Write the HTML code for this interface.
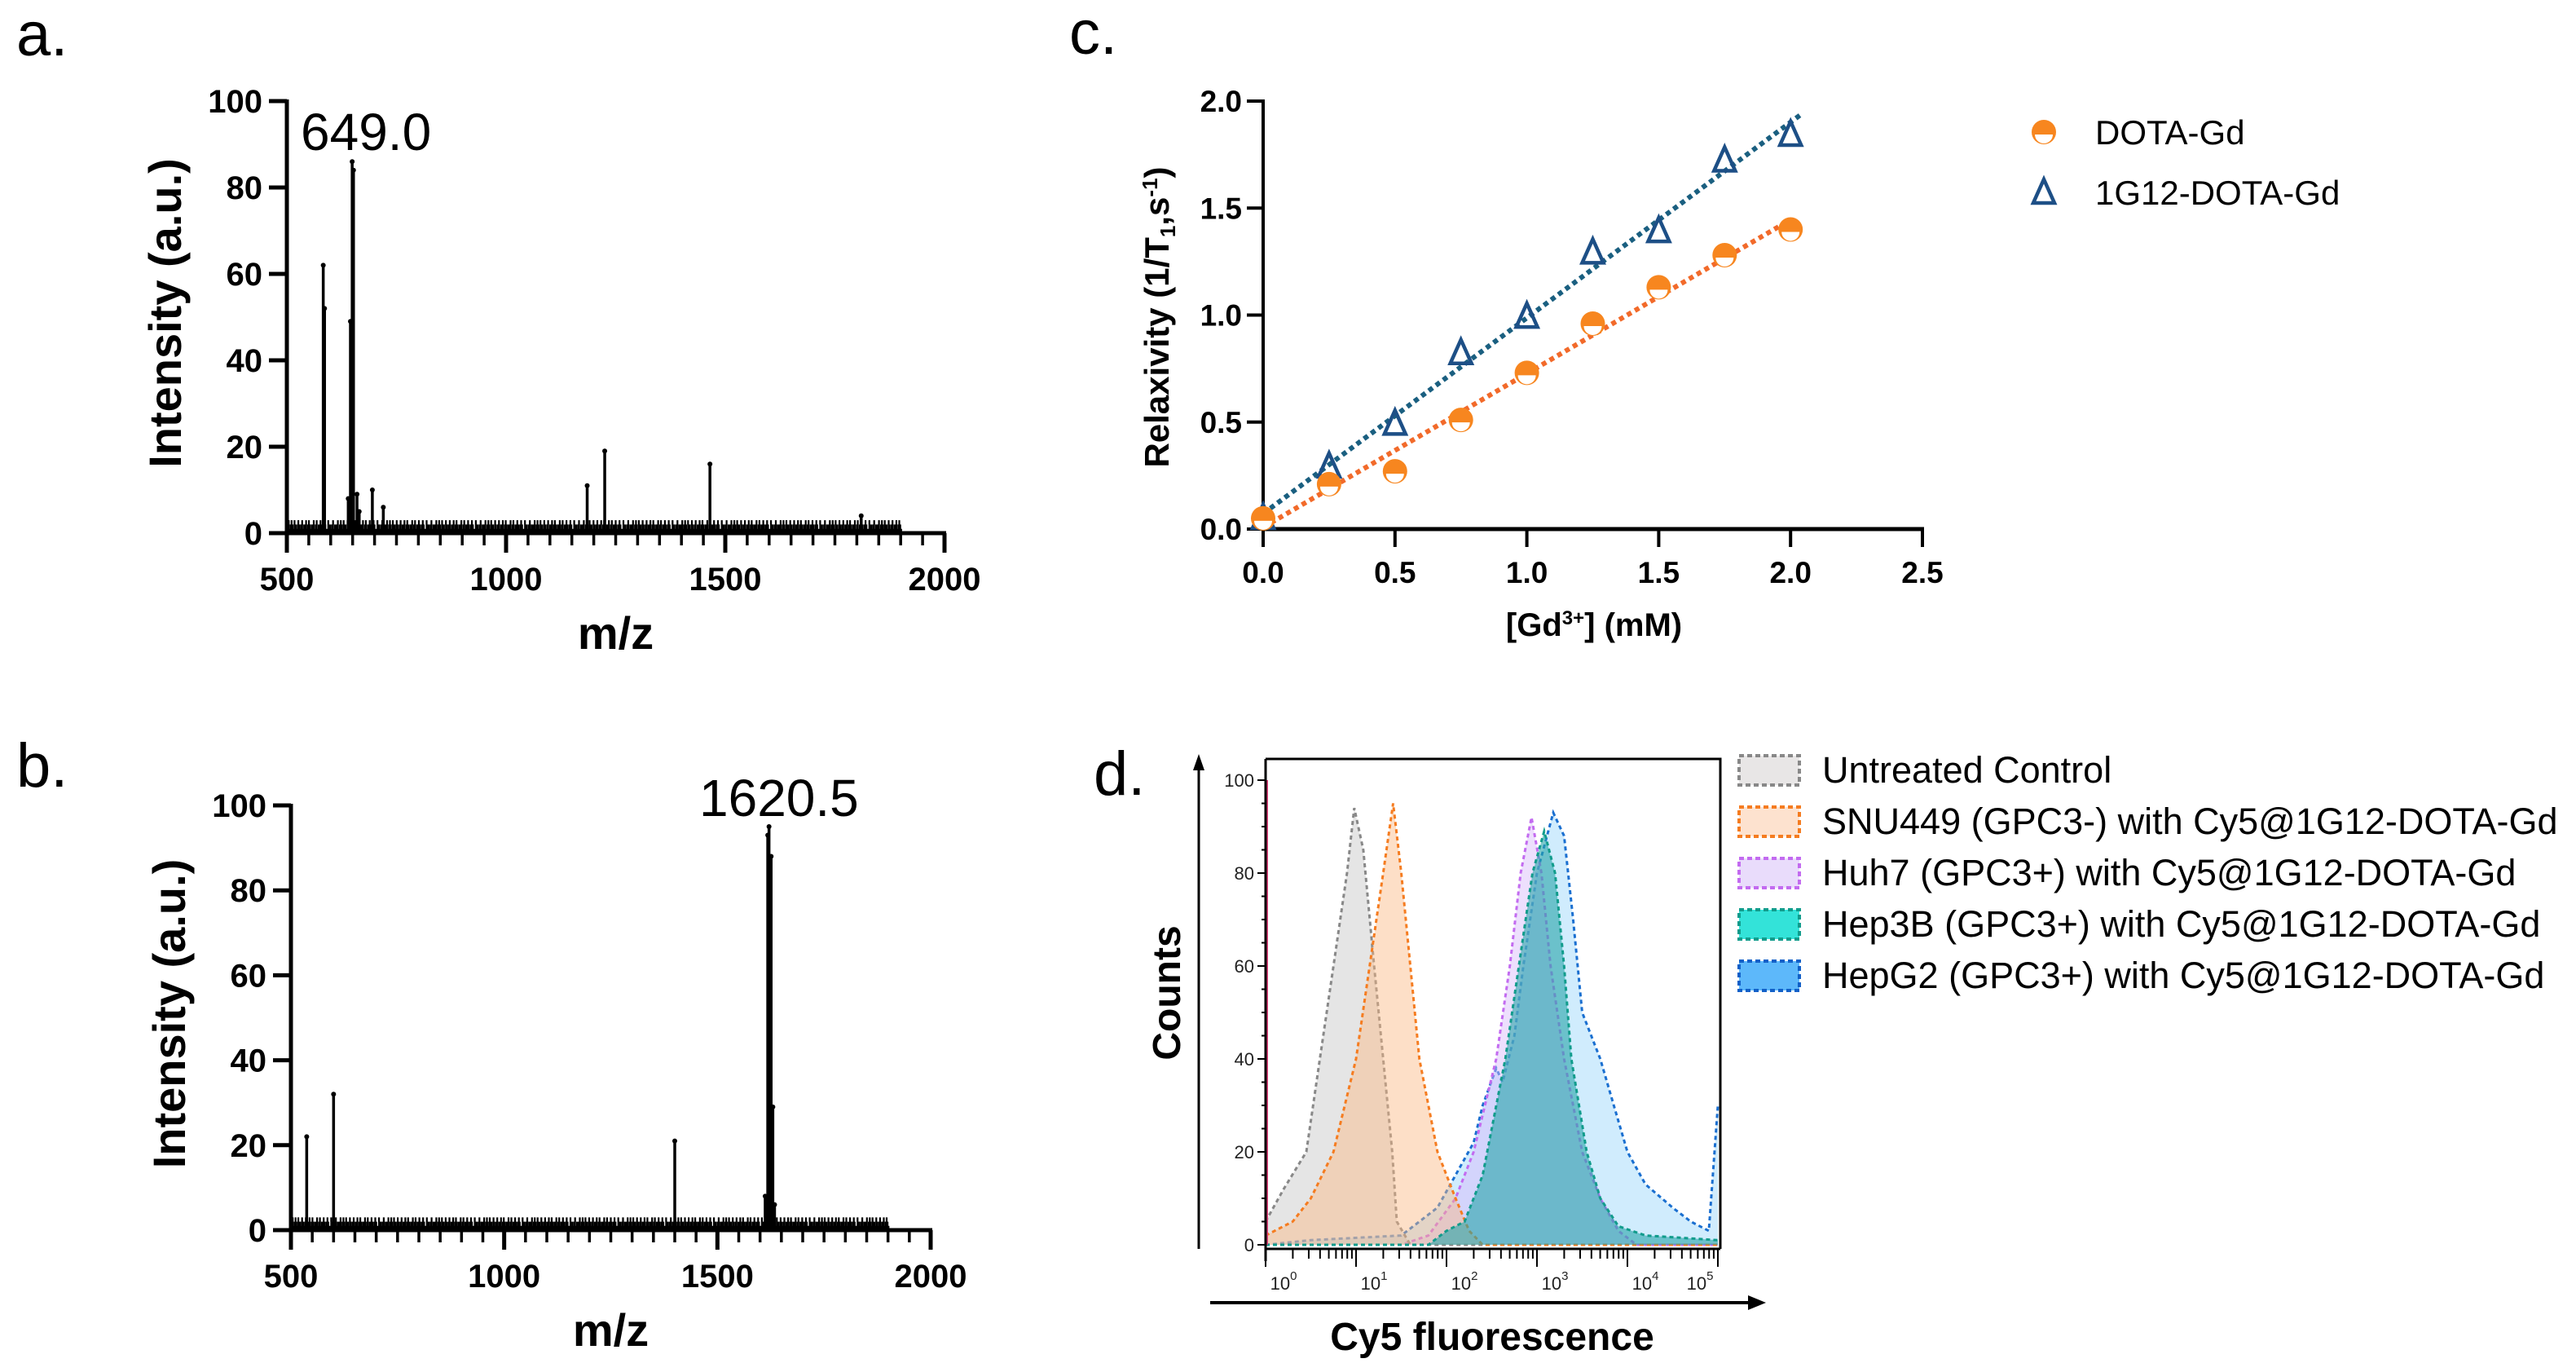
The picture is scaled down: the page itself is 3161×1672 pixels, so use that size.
<!DOCTYPE html>
<html><head><meta charset="utf-8"><style>
html,body{margin:0;padding:0;background:#fff;}
svg{display:block;font-family:"Liberation Sans",Arial,sans-serif;}
</style></head><body>
<svg id="fig" width="3161" height="1672" viewBox="0 0 3161 1672" xmlns="http://www.w3.org/2000/svg">
<rect width="3161" height="1672" fill="#fff"/>
<text x="20" y="68" font-size="76">a.</text>
<text x="20" y="965" font-size="76">b.</text>
<text x="1312" y="66" font-size="76">c.</text>
<text x="1342" y="975" font-size="76">d.</text>
<g id="pa"></g>
<g id="pb"></g>
<g id="pc"></g>
<g id="pd"></g>
</svg>
<script>
// ---- Panel a/b data ----
const specTicksY = [0,20,40,60,80,100];
const specTicksX = [500,1000,1500,2000];
const peaksA_mz = [583,586,640,645,649,652,660,665,695,720,1185,1225,1465,1810];
const peaksA_int = [62,52,8,49,86,84,9,5,10,6,11,19,16,4];
const peaksB_mz = [537,600,1400,1612,1618,1621,1626,1630,1634];
const peaksB_int = [22,32,21,8,93,95,88,29,6];
const noiseVals = [2,3,1,2,3,2,1,3,2,2,1,3,2,1,2,3,1,2,2,3,1,2,3,2,1,2,2,3,1,2,3,1,2,2,3,2,1,2,3,2,1,1,3,2,2,1,2,3,1,2,2];
// ---- Panel c data ----
const gdConc = [0,0.25,0.5,0.75,1.0,1.25,1.5,1.75,2.0];
const dotaGd = [0.05,0.21,0.27,0.51,0.73,0.96,1.13,1.28,1.40];
const g12DotaGd = [0.05,0.29,0.49,0.82,0.99,1.29,1.39,1.72,1.84];
const cTicksY = [0,0.5,1.0,1.5,2.0];
const cTicksX = [0,0.5,1.0,1.5,2.0,2.5];
// ---- Panel d data (x in log10 units) ----
const ctrlX = [0,0.2,0.45,0.6,0.75,0.9,0.98,1.08,1.2,1.3,1.4,1.45,1.6,5];
const ctrlY = [5,12,20,40,60,80,94,85,60,40,20,5,0,0];
const snuX = [0,0.3,0.5,0.75,1.0,1.15,1.3,1.41,1.5,1.6,1.7,1.9,2.1,2.25,2.4,5];
const snuY = [2,5,10,20,40,60,80,95,80,60,40,20,10,3,0,0];
const huhX = [0,1.5,1.8,2.1,2.3,2.55,2.7,2.82,2.94,3.05,3.15,3.3,3.5,3.7,3.9,4.1,5];
const huhY = [0,0,2,10,20,40,60,80,92,80,60,40,20,10,3,0,0];
const hep3bX = [0,1.8,2.0,2.2,2.4,2.65,2.8,2.95,3.08,3.2,3.3,3.38,3.55,3.7,3.9,4.2,5];
const hep3bY = [0,0,3,5,15,40,60,80,89,80,60,40,20,10,4,2,1];
const hepg2X = [0,0.5,1.5,1.9,2.1,2.3,2.4,2.55,2.62,2.75,2.85,3.0,3.18,3.3,3.4,3.5,3.7,3.85,4.0,4.2,4.5,4.7,4.9,5.0];
const hepg2Y = [0,1,2,8,15,22,30,38,35,45,60,80,93,88,70,50,40,30,20,13,8,5,3,30];
const dTicksY = [0,20,40,60,80,100];
const legendD = ["Untreated Control","SNU449 (GPC3-) with Cy5@1G12-DOTA-Gd","Huh7 (GPC3+) with Cy5@1G12-DOTA-Gd","Hep3B (GPC3+) with Cy5@1G12-DOTA-Gd","HepG2 (GPC3+) with Cy5@1G12-DOTA-Gd"];

const NS='http://www.w3.org/2000/svg';
function mk(parent,tag,attrs,txt){const e=document.createElementNS(NS,tag);for(const k in attrs)e.setAttribute(k,attrs[k]);if(txt!==undefined)e.textContent=txt;parent.appendChild(e);return e;}

function spectrum(gid,ax,mzArr,intArr,label,lblX,lblY){
  const g=document.getElementById(gid);
  const X=v=>ax.x0+(v-500)/1500*(ax.x1-ax.x0);
  const Y=v=>ax.y0-(v/100)*(ax.y0-ax.y1);
  let d='';
  for(let m=502,i=0;m<=1903;m+=2.2,i++){const v=noiseVals[i%noiseVals.length];d+=`M${X(m).toFixed(1)},${ax.y0}V${Y(v).toFixed(1)}`;}
  const nz=mk(g,'path',{d:d,stroke:'#000','stroke-width':2.2,fill:'none'});
  
  
  mzArr.forEach((m,i)=>{
    const l=mk(g,'line',{x1:X(m),x2:X(m),y1:ax.y0,y2:Y(intArr[i]),stroke:'#000','stroke-width':3.5});
    
    
    const c=mk(g,'circle',{cx:X(m),cy:Y(intArr[i]),r:3,fill:'#000'});
    
    
  });
  mk(g,'line',{x1:ax.x0,x2:ax.x0,y1:ax.y1-2,y2:ax.y0+22,stroke:'#000','stroke-width':5});
  mk(g,'line',{x1:ax.x0-2,x2:ax.x1+2,y1:ax.y0,y2:ax.y0,stroke:'#000','stroke-width':5});
  specTicksY.forEach(v=>{
    mk(g,'line',{x1:ax.x0-22,x2:ax.x0,y1:Y(v),y2:Y(v),stroke:'#000','stroke-width':5});
    const t=mk(g,'text',{x:ax.x0-30,y:Y(v)+14,'font-size':40,'font-weight':'bold','text-anchor':'end'},v);
    
    
  });
  for(let m=500;m<=2000;m+=50){const maj=(m%500===0);mk(g,'line',{x1:X(m),x2:X(m),y1:ax.y0,y2:ax.y0+(maj?24:15),stroke:'#000','stroke-width':maj?5:3.5});}
  specTicksX.forEach(v=>{
    const t=mk(g,'text',{x:X(v),y:ax.y0+70,'font-size':40,'font-weight':'bold','text-anchor':'middle'},v);
    
    
  });
  const yt=mk(g,'text',{x:0,y:0,'font-size':56,'font-weight':'bold','text-anchor':'middle',transform:`translate(${ax.x0-130},${(ax.y0+ax.y1)/2-5}) rotate(-90)`},'Intensity (a.u.)');
  
  
  const xt=mk(g,'text',{x:(ax.x0+ax.x1)/2,y:ax.y0+142,'font-size':56,'font-weight':'bold','text-anchor':'middle'},'m/z');
  
  
  const pl=mk(g,'text',{x:lblX,y:lblY,'font-size':64},label);
  
  
}
spectrum('pa',{x0:352,x1:1159,y0:654,y1:124},peaksA_mz,peaksA_int,'649.0',369,184);
spectrum('pb',{x0:357,x1:1142,y0:1509,y1:988},peaksB_mz,peaksB_int,'1620.5',858,1001);

(function(){
  const g=document.getElementById('pc');
  const x0=1550,x1=2359,y0=649,y1=124;
  const X=v=>x0+v/2.5*(x1-x0), Y=v=>y0-v/2*(y0-y1);
  function fit(ys){const n=gdConc.length;let sx=0,sy=0,sxx=0,sxy=0;for(let i=0;i<n;i++){sx+=gdConc[i];sy+=ys[i];sxx+=gdConc[i]*gdConc[i];sxy+=gdConc[i]*ys[i];}const b=(n*sxy-sx*sy)/(n*sxx-sx*sx);return {a:(sy-b*sx)/n,b:b};}
  const fo=fit(dotaGd), fb=fit(g12DotaGd);
  const lo=mk(g,'line',{x1:X(0),y1:Y(fo.a),x2:X(2.0),y2:Y(fo.a+fo.b*2.0),stroke:'#f26a2a','stroke-width':6,'stroke-dasharray':'6 5'});
  
  
  const lb=mk(g,'line',{x1:X(0),y1:Y(fb.a),x2:X(2.04),y2:Y(fb.a+fb.b*2.04),stroke:'#1a5f80','stroke-width':6,'stroke-dasharray':'6 5'});
  
  
  mk(g,'line',{x1:x0,x2:x0,y1:y1-2,y2:y0+22,stroke:'#000','stroke-width':4});
  mk(g,'line',{x1:x0-2,x2:x1+2,y1:y0,y2:y0,stroke:'#000','stroke-width':5});
  cTicksY.forEach(v=>{mk(g,'line',{x1:x0-20,x2:x0,y1:Y(v),y2:Y(v),stroke:'#000','stroke-width':4});
    const t=mk(g,'text',{x:x0-26,y:Y(v)+13,'font-size':37,'font-weight':'bold','text-anchor':'end'},v.toFixed(1));
    
    });
  cTicksX.forEach(v=>{mk(g,'line',{x1:X(v),x2:X(v),y1:y0,y2:y0+22,stroke:'#000','stroke-width':4});
    const t=mk(g,'text',{x:X(v),y:y0+66,'font-size':37,'font-weight':'bold','text-anchor':'middle'},v.toFixed(1));
    
    });
  function circ(cx,cy){const s=mk(g,'g',{});
    mk(s,'circle',{cx:cx,cy:cy,r:15,fill:'#f7861f'});
    mk(s,'path',{d:`M${cx-11},${cy+3}H${cx+11}A11,11 0 0 1 ${cx-11},${cy+3}Z`,fill:'#fff'});return s;}
  function tri(cx,cy){return mk(g,'path',{d:`M${cx},${cy-17}L${cx+13},${cy+12}L${cx-13},${cy+12}Z`,fill:'none',stroke:'#1d4f86','stroke-width':4.5});}
  gdConc.forEach((c,i)=>{const m=tri(X(c),Y(g12DotaGd[i]));
    
    });
  gdConc.forEach((c,i)=>{const m=circ(X(c),Y(dotaGd[i]));
    
    });
  const yt=mk(g,'text',{x:0,y:0,'font-size':42,'font-weight':'bold','text-anchor':'middle',transform:`translate(1434,${389}) rotate(-90)`});
  
  
  yt.innerHTML='Relaxivity (1/T<tspan font-size="26" dy="8">1</tspan><tspan dy="-8">,s</tspan><tspan font-size="26" dy="-14">-1</tspan><tspan dy="14">)</tspan>';
  const xt=mk(g,'text',{x:1956,y:780,'font-size':40,'font-weight':'bold','text-anchor':'middle'});
  
  
  xt.innerHTML='[Gd<tspan font-size="24" dy="-14">3+</tspan><tspan dy="14">] (mM)</tspan>';
  const l1=circ(2508,162);
  
  
  const t1=mk(g,'text',{x:2571,y:177,'font-size':42},'DOTA-Gd');
  
  
  const l2=tri(2508,237);
  
  
  const t2=mk(g,'text',{x:2571,y:251,'font-size':42},'1G12-DOTA-Gd');
  
  
})();

(function(){
  const g=document.getElementById('pd');
  const x0=1553,x1=2111,y0=1527,ytop=957,dec=111;
  const X=v=>Math.min(x0+v*dec,x1), Y=v=>y0-v/100*(y0-ytop);
  const series=[
    [hepg2X,hepg2Y,'rgba(120,200,250,0.35)','#1a6fd0','hepg2'],
    [huhX,huhY,'rgba(215,185,250,0.45)','#c36bf0','huh7'],
    [ctrlX,ctrlY,'rgba(190,190,190,0.4)','#888','untreated'],
    [snuX,snuY,'rgba(250,185,130,0.45)','#f57c20','snu449'],
    [hep3bX,hep3bY,'rgba(40,165,170,0.6)','#119c8c','hep3b']];
  series.forEach(s=>{
    let d=`M${X(s[0][0])},${y0}`;s[0].forEach((x,i)=>{d+=`L${X(x).toFixed(1)},${Y(s[1][i]).toFixed(1)}`;});
    const a=mk(g,'path',{d:d+`L${X(s[0][s[0].length-1])},${y0}Z`,fill:s[2]});
    
    
    let d2='';s[0].forEach((x,i)=>{d2+=(i?'L':'M')+X(x).toFixed(1)+','+Y(s[1][i]).toFixed(1);});
    const l=mk(g,'path',{d:d2,fill:'none',stroke:s[3],'stroke-width':3,'stroke-dasharray':'5 4'});
    
    
  });
  mk(g,'line',{x1:x0+2,x2:x0+2,y1:y0,y2:ytop,stroke:'#e0407a','stroke-width':2});
  mk(g,'path',{d:`M${x0},931H${x1}V${y0+5}`,fill:'none',stroke:'#000','stroke-width':3});
  mk(g,'line',{x1:x0,x2:x0,y1:931,y2:y0+20,stroke:'#000','stroke-width':3});
  mk(g,'line',{x1:x0,x2:x1,y1:y0+5,y2:y0+5,stroke:'#000','stroke-width':3});
  for(let v=0;v<=100;v+=5){mk(g,'line',{x1:x0-(v%20===0?10:5),x2:x0,y1:Y(v),y2:Y(v),stroke:'#000','stroke-width':2});}
  dTicksY.forEach(v=>{const t=mk(g,'text',{x:x0-14,y:Y(v)+8,'font-size':22,'text-anchor':'end',fill:'#222'},v);
    
    });
  for(let dd=0;dd<5;dd++){for(let k=1;k<10;k++){const x=X(dd+Math.log10(k));mk(g,'line',{x1:x,x2:x,y1:y0+5,y2:y0+5+(k===1?22:12),stroke:'#000','stroke-width':2});}}
  mk(g,'line',{x1:X(5),x2:X(5),y1:y0+5,y2:y0+27,stroke:'#000','stroke-width':2});
  for(let dd=0;dd<=5;dd++){const x=(dd===5?2086:X(dd)+22);const t=mk(g,'text',{x:x,y:1582,'font-size':22,'text-anchor':'middle',fill:'#222'});
    t.innerHTML='10<tspan font-size="15" dy="-12">'+dd+'</tspan>';
    
    }
  mk(g,'path',{d:'M1471,1532V938',stroke:'#000','stroke-width':3,fill:'none'});
  mk(g,'path',{d:'M1464,945L1471,925L1478,945Z',fill:'#000'});
  mk(g,'path',{d:'M1485,1598H2150',stroke:'#000','stroke-width':4,fill:'none'});
  mk(g,'path',{d:'M2145,1589L2167,1598L2145,1607Z',fill:'#000'});
  const yt=mk(g,'text',{x:0,y:0,'font-size':48,'font-weight':'bold','text-anchor':'middle',transform:'translate(1448,1218) rotate(-90)'},'Counts');
  
  
  const xt=mk(g,'text',{x:1831,y:1656,'font-size':48,'font-weight':'bold','text-anchor':'middle'},'Cy5 fluorescence');
  
  
  const lf=['#e8e6e6','#fde2cf','#e9dcfb','#33e3d9','#5db8fa'];
  const ls=['#888','#f57c20','#c36bf0','#119c8c','#1260c8'];
  legendD.forEach((s,i)=>{const y=927+i*63;
    const b=mk(g,'rect',{x:2134,y:y,width:74,height:36,fill:lf[i],stroke:ls[i],'stroke-width':4,'stroke-dasharray':'6 4'});
    
    
    const t=mk(g,'text',{x:2236,y:y+33,'font-size':45},s);
    
    });
})();
</script>
</body></html>
